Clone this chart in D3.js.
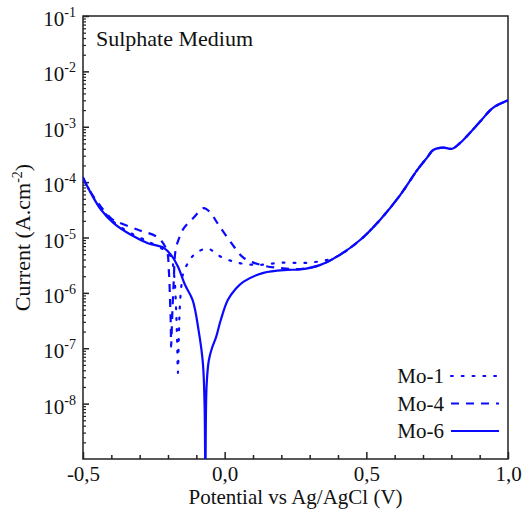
<!DOCTYPE html>
<html>
<head>
<meta charset="utf-8">
<script src="https://cdn.jsdelivr.net/npm/d3@7"></script>
<style>
  body { margin: 0; background: #fff; }
  svg { font-family: "Liberation Serif", "Times New Roman", serif; }
</style>
</head>
<body>
<div id="container"></div>
<script>
const { d3 } = window;

// potential (V) and current density (A/cm2)
const mo6X = [-0.5, -0.472, -0.437, -0.391, -0.331, -0.271, -0.215, -0.19, -0.165, -0.14, -0.113, -0.092, -0.077, -0.071, -0.068,
  -0.064, -0.056, -0.045, -0.03, -0.014, 0.011, 0.04, 0.067, 0.137, 0.222, 0.268, 0.338, 0.408, 0.479, 0.549, 0.62, 0.68,
  0.715, 0.736, 0.771, 0.803, 0.831, 0.866, 0.901, 0.947, 1.0];
const mo6Y = [1.2e-4, 6.3e-5, 3.2e-5, 1.8e-5, 1.12e-5, 7.9e-6, 6.5e-6, 4.9e-6, 3.0e-6, 1.4e-6, 7.4e-7, 2.1e-7, 5.5e-8, 1e-8, 5e-10,
  2e-8, 6e-8, 1.0e-7, 1.6e-7, 3.2e-7, 7.4e-7, 1.2e-6, 1.6e-6, 2.3e-6, 2.6e-6, 2.65e-6, 3.2e-6, 4.9e-6, 9.1e-6, 2.1e-5, 5.9e-5, 1.66e-4,
  2.8e-4, 3.8e-4, 4.2e-4, 4.0e-4, 5.1e-4, 7.8e-4, 1.23e-3, 2.2e-3, 3.0e-3];

const mo4X = [-0.5, -0.472, -0.437, -0.4, -0.377, -0.306, -0.236, -0.205, -0.197, -0.193, -0.19, -0.189, -0.185, -0.18, -0.173,
  -0.16, -0.144, -0.109, -0.074, -0.05, -0.025, 0.021, 0.067, 0.127, 0.197, 0.268, 0.338, 0.408, 0.479, 0.549, 0.62, 0.68,
  0.715, 0.736, 0.771, 0.803, 0.831, 0.866, 0.901, 0.947, 1.0];
const mo4Y = [1.2e-4, 6.5e-5, 3.6e-5, 2.2e-5, 1.9e-5, 1.38e-5, 1.0e-5, 6.0e-6, 2.5e-6, 8e-7, 2.5e-7, 1.07e-7, 4e-7, 1.5e-6, 6.0e-6,
  1.0e-5, 1.48e-5, 2.3e-5, 3.4e-5, 2.8e-5, 1.8e-5, 8.3e-6, 4.3e-6, 3.2e-6, 2.8e-6, 2.7e-6, 3.2e-6, 4.9e-6, 9.1e-6, 2.1e-5, 5.9e-5, 1.66e-4,
  2.8e-4, 3.8e-4, 4.2e-4, 4.0e-4, 5.1e-4, 7.8e-4, 1.23e-3, 2.2e-3, 3.0e-3];

const mo1X = [-0.5, -0.472, -0.437, -0.391, -0.331, -0.271, -0.215, -0.19, -0.178, -0.172, -0.168, -0.165, -0.162, -0.158, -0.153,
  -0.148, -0.125, -0.102, -0.06, -0.014, 0.046, 0.116, 0.197, 0.292, 0.366, 0.408, 0.479, 0.549, 0.62, 0.68,
  0.715, 0.736, 0.771, 0.803, 0.831, 0.866, 0.901, 0.947, 1.0];
const mo1Y = [1.2e-4, 6.4e-5, 3.4e-5, 1.9e-5, 1.2e-5, 8.5e-6, 6.0e-6, 4.5e-6, 2.0e-6, 6e-7, 1.5e-7, 3.6e-8, 1.5e-7, 6e-7, 1.3e-6,
  2.1e-6, 3.8e-6, 5.2e-6, 6.3e-6, 4.5e-6, 3.5e-6, 3.2e-6, 3.5e-6, 3.5e-6, 4.0e-6, 4.9e-6, 9.1e-6, 2.1e-5, 5.9e-5, 1.66e-4,
  2.8e-4, 3.8e-4, 4.2e-4, 4.0e-4, 5.1e-4, 7.8e-4, 1.23e-3, 2.2e-3, 3.0e-3];

const seriesNames = ['Mo-1', 'Mo-4', 'Mo-6'];
const xTicks = [-0.5, 0, 0.5, 1.0];
const xMinorTicks = [-0.4, -0.3, -0.2, -0.1, 0.1, 0.2, 0.3, 0.4, 0.6, 0.7, 0.8, 0.9];
const yExponents = [-1, -2, -3, -4, -5, -6, -7, -8];

const width = 525;
const height = 516;
const M = { left: 83, right: 508, top: 16, bottom: 459 };
const BLUE = '#0a0aff';
const AXIS = '#222';

const locale = d3.formatLocale({ decimal: ',', thousands: '.', grouping: [3], currency: ['', ''], minus: '-' });
const fmt = locale.format('.1f');

const x = d3.scaleLinear().domain([-0.5, 1.0]).range([M.left, M.right]);
const y = d3.scaleLog().domain([1e-9, 1e-1]).range([M.bottom, M.top]);

const svg = d3.select('#container').append('svg')
  .attr('width', width)
  .attr('height', height);

svg.append('clipPath').attr('id', 'plot')
  .append('rect')
  .attr('x', M.left).attr('y', M.top)
  .attr('width', M.right - M.left).attr('height', M.bottom - M.top);

// minor y ticks, 2..9 in every decade
const yMinor = [];
for (let e = -9; e <= -2; e += 1) {
  for (let m = 2; m <= 9; m += 1) yMinor.push(m * Math.pow(10, e));
}

svg.append('g')
  .attr('transform', `translate(${M.left},0)`)
  .call(d3.axisLeft(y).tickValues(yMinor).tickSize(-3).tickFormat(''))
  .call((g) => g.select('.domain').remove())
  .call((g) => g.selectAll('line').attr('stroke', AXIS).attr('stroke-width', 1.2));

const yAxis = svg.append('g')
  .attr('transform', `translate(${M.left},0)`)
  .call(d3.axisLeft(y).tickValues(yExponents.map((e) => Math.pow(10, e))).tickSize(-6).tickFormat(''));
yAxis.select('.domain').remove();
yAxis.selectAll('line').attr('stroke', AXIS).attr('stroke-width', 1.5);

svg.append('g')
  .attr('transform', `translate(0,${M.bottom})`)
  .call(d3.axisBottom(x).tickValues(xMinorTicks).tickSize(-4).tickFormat(''))
  .call((g) => g.select('.domain').remove())
  .call((g) => g.selectAll('line').attr('stroke', AXIS).attr('stroke-width', 1.5));

const xAxis = svg.append('g')
  .attr('transform', `translate(0,${M.bottom})`)
  .call(d3.axisBottom(x).tickValues(xTicks).tickSize(-7).tickFormat(fmt));
xAxis.select('.domain').remove();
xAxis.selectAll('line').attr('stroke', AXIS).attr('stroke-width', 1.5);
xAxis.selectAll('text')
  .attr('y', 22)
  .attr('dy', 0)
  .attr('fill', '#111')
  .style('font-family', '"Liberation Serif", serif')
  .style('font-size', '21px');

// y tick labels with superscript exponents
const yLabels = svg.append('g')
  .style('font-size', '21px')
  .attr('fill', '#111');
yExponents.forEach((e) => {
  const t = yLabels.append('text')
    .attr('x', 76)
    .attr('y', y(Math.pow(10, e)) + 10)
    .attr('text-anchor', 'end');
  t.append('tspan').text('10');
  t.append('tspan').attr('dy', -9).style('font-size', '14px').text(e);
});

// frame
svg.append('rect')
  .attr('x', M.left).attr('y', M.top)
  .attr('width', M.right - M.left).attr('height', M.bottom - M.top)
  .attr('fill', 'none')
  .attr('stroke', AXIS)
  .attr('stroke-width', 1.5);

const lineFree = d3.line()
  .x((d) => x(d[0]))
  .y((d) => y(d[1]))
  .curve(d3.curveCatmullRom.alpha(0.5));

const series = [
  { name: 'Mo-1', xs: mo1X, ys: mo1Y, dash: '1.8 9', cap: 'round' },
  { name: 'Mo-4', xs: mo4X, ys: mo4Y, dash: '8 7', cap: 'butt' },
  { name: 'Mo-6', xs: mo6X, ys: mo6Y, dash: null, cap: 'butt' },
];

const plot = svg.append('g').attr('clip-path', 'url(#plot)');
series.forEach((s) => {
  const pts = s.xs.map((v, i) => [v, s.ys[i]]);
  plot.append('path')
    .attr('d', lineFree(pts))
    .attr('fill', 'none')
    .attr('stroke', BLUE)
    .attr('stroke-width', 2.2)
    .attr('stroke-linecap', s.cap)
    .attr('stroke-linejoin', 'round')
    .attr('stroke-dasharray', s.dash);
});

// legend
const legend = svg.append('g').style('font-size', '21px');
seriesNames.forEach((name, i) => {
  const s = series[i];
  const ly = 376 + i * 27.5;
  legend.append('text')
    .attr('x', 444)
    .attr('y', ly + 7)
    .attr('text-anchor', 'end')
    .attr('fill', '#111')
    .text(name);
  legend.append('line')
    .attr('x1', 451).attr('x2', 499)
    .attr('y1', ly).attr('y2', ly)
    .attr('stroke', BLUE)
    .attr('stroke-width', 2.2)
    .attr('stroke-linecap', s.cap)
    .attr('stroke-dasharray', s.dash);
});

svg.append('text')
  .attr('x', 96)
  .attr('y', 46)
  .style('font-size', '22px')
  .attr('fill', '#111')
  .text('Sulphate Medium');

svg.append('text')
  .attr('x', (M.left + M.right) / 2)
  .attr('y', 504)
  .attr('text-anchor', 'middle')
  .style('font-size', '21px')
  .attr('fill', '#111')
  .text('Potential vs Ag/AgCl (V)');

const yTitle = svg.append('text')
  .attr('transform', `translate(30,${(M.top + M.bottom) / 2}) rotate(-90)`)
  .attr('text-anchor', 'middle')
  .style('font-size', '22px')
  .attr('fill', '#111');
yTitle.append('tspan').text('Current (A.cm');
yTitle.append('tspan').attr('dy', -8).style('font-size', '14px').text('-2');
yTitle.append('tspan').attr('dy', 8).text(')');
</script>
</body>
</html>
